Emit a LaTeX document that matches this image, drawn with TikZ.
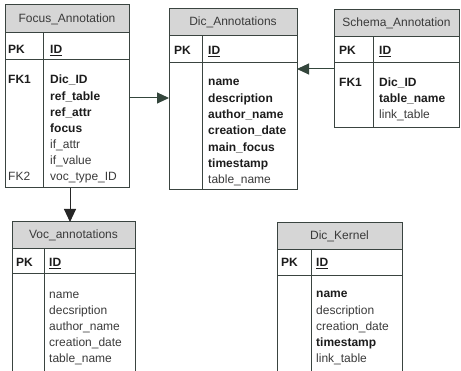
\documentclass[tikz,border=0pt]{standalone}
\usepackage{fontspec}
\setmainfont{Liberation Sans}
\usetikzlibrary{arrows.meta}
\definecolor{bordc}{HTML}{3A4440}
\definecolor{headf}{HTML}{D6D6D6}
\definecolor{txtb}{HTML}{1C1C1C}
\definecolor{txtr}{HTML}{3A3A3A}
\definecolor{arrg}{HTML}{34463C}
\tikzset{
  tbl/.style={draw=bordc, line width=1pt, anchor=north west, inner sep=0pt, outer sep=0pt},
  hdr/.style={draw=bordc, fill=headf, line width=1pt, anchor=north west, inner sep=0pt, outer sep=0pt,
              text=txtr, font=\fontsize{12}{14}\selectfont},
  bord/.style={draw=bordc, line width=1pt},
  fldb/.style={font=\fontsize{12}{14}\selectfont\bfseries, text=txtb, anchor=base west, inner sep=0pt},
  fldr/.style={font=\fontsize{12}{14}\selectfont, text=txtr, anchor=base west, inner sep=0pt},
  conn/.style={draw=arrg, line width=1pt, -{Triangle[length=12pt,width=11pt]}},
  connk/.style={draw=black!85, line width=1pt, -{Triangle[length=13pt,width=12pt]}},
}
\begin{document}
\begin{tikzpicture}[x=1pt,y=-1pt]
\useasboundingbox (0,0) rectangle (461,371);
\clip (0,0) rectangle (461,371);

% ---------------- Focus_Annotation
\node[hdr, minimum width=124pt, minimum height=28pt] (fah) at (5,5) {Focus\_Annotation};
\node[tbl, minimum width=124pt, minimum height=183pt] (fa) at (5,5) {};
\coordinate (fap1) at (5,60);
\coordinate (fap2) at (129,60);
\draw[bord] (fap1) -- (fap2);
\coordinate (fad1) at (43,33);
\coordinate (fad2) at (43,188);
\draw[bord] (fad1) -- (fad2);
\node[fldb] (fapk) at (8,54) {PK};
\node[fldb] (faid) at (50,54) {\underline{ID}};
\node[fldb] (fafk1) at (8,84) {FK1};
\node[fldr] (fafk2) at (8,181) {FK2};
\node[fldb] (fa1) at (50,84) {Dic\_ID};
\node[fldb] (fa2) at (50,100.2) {ref\_table};
\node[fldb] (fa3) at (50,116.3) {ref\_attr};
\node[fldb] (fa4) at (50,132.5) {focus};
\node[fldr] (fa5) at (50,148.6) {if\_attr};
\node[fldr] (fa6) at (50,164.8) {if\_value};
\node[fldr] (fa7) at (50,181) {voc\_type\_ID};

% ---------------- Dic_Annotations
\node[hdr, minimum width=128pt, minimum height=27pt] (dah) at (169,9) {Dic\_Annotations};
\node[tbl, minimum width=128pt, minimum height=181pt] (da) at (169,9) {};
\coordinate (dap1) at (169,63);
\coordinate (dap2) at (297,63);
\draw[bord] (dap1) -- (dap2);
\coordinate (dad1) at (202,36);
\coordinate (dad2) at (202,190);
\draw[bord] (dad1) -- (dad2);
\node[fldb] (dapk) at (174,55) {PK};
\node[fldb] (daid) at (208,55) {\underline{ID}};
\node[fldb] (da1) at (208,86) {name};
\node[fldb] (da2) at (208,102.3) {description};
\node[fldb] (da3) at (208,118.6) {author\_name};
\node[fldb] (da4) at (208,134.9) {creation\_date};
\node[fldb] (da5) at (208,151.2) {main\_focus};
\node[fldb] (da6) at (208,167.5) {timestamp};
\node[fldr] (da7) at (208,183.8) {table\_name};

% ---------------- Schema_Annotation
\node[hdr, minimum width=125pt, minimum height=27pt] (sah) at (334,10) {Schema\_Annotation};
\node[tbl, minimum width=125pt, minimum height=118pt] (sa) at (334,10) {};
\coordinate (sap1) at (334,63);
\coordinate (sap2) at (459,63);
\draw[bord] (sap1) -- (sap2);
\coordinate (sad1) at (373,37);
\coordinate (sad2) at (373,128);
\draw[bord] (sad1) -- (sad2);
\node[fldb] (sapk) at (339,55) {PK};
\node[fldb] (said) at (379,55) {\underline{ID}};
\node[fldb] (safk1) at (339,87) {FK1};
\node[fldb] (sa1) at (379,87) {Dic\_ID};
\node[fldb] (sa2) at (379,103) {table\_name};
\node[fldr] (sa3) at (379,118.5) {link\_table};

% ---------------- Voc_annotations
\node[hdr, minimum width=123pt, minimum height=27pt] (voh) at (12,222) {Voc\_annotations};
\node[tbl, minimum width=123pt, minimum height=160pt] (vo) at (12,222) {};
\coordinate (vop1) at (12,274);
\coordinate (vop2) at (135,274);
\draw[bord] (vop1) -- (vop2);
\coordinate (vod1) at (44,249);
\coordinate (vod2) at (44,382);
\draw[bord] (vod1) -- (vod2);
\node[fldb] (vopk) at (16,267) {PK};
\node[fldb] (void) at (49,267) {\underline{ID}};
\node[fldr] (vo1) at (49,299) {name};
\node[fldr] (vo2) at (49,315) {decsription};
\node[fldr] (vo3) at (49,331) {author\_name};
\node[fldr] (vo4) at (49,347) {creation\_date};
\node[fldr] (vo5) at (49,362.5) {table\_name};

% ---------------- Dic_Kernel
\node[hdr, minimum width=125pt, minimum height=27pt] (dkh) at (277,223) {Dic\_Kernel};
\node[tbl, minimum width=125pt, minimum height=160pt] (dk) at (277,223) {};
\coordinate (dkp1) at (277,276);
\coordinate (dkp2) at (402,276);
\draw[bord] (dkp1) -- (dkp2);
\coordinate (dkd1) at (311,250);
\coordinate (dkd2) at (311,383);
\draw[bord] (dkd1) -- (dkd2);
\node[fldb] (dkpk) at (281,267) {PK};
\node[fldb] (dkid) at (316,267) {\underline{ID}};
\node[fldb] (dk1) at (316,298) {name};
\node[fldr] (dk2) at (316,315) {description};
\node[fldr] (dk3) at (316,331) {creation\_date};
\node[fldb] (dk4) at (316,347) {timestamp};
\node[fldr] (dk5) at (316,362.5) {link\_table};

% ---------------- connectors
\draw[conn] ([yshift=-1.5pt]fa.east) -- ([yshift=-1.5pt]fa.east -| da.west);
\draw[conn] (sa.west) -- (sa.west -| da.east);
\draw[connk] ([xshift=3pt]fa.south) -- ([xshift=3pt]fa.south |- vo.north);
\end{tikzpicture}
\end{document}
